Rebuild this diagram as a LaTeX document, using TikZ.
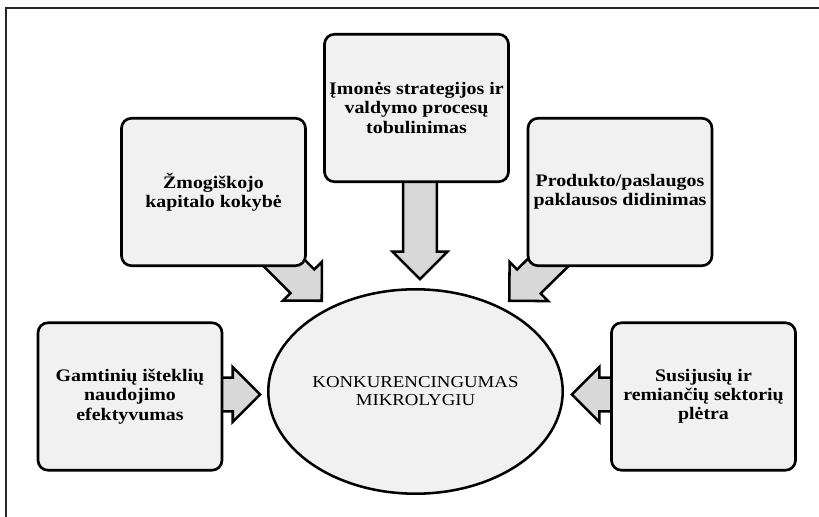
\documentclass[tikz,border=0pt]{standalone}
\usepackage{fontspec}
\setmainfont{Liberation Serif}
\newfontfamily\widserif[FakeStretch=1.13]{Liberation Serif}
\usetikzlibrary{shapes.geometric,calc}

\definecolor{boxgray}{HTML}{F1F1F1}
\definecolor{arrowgray}{HTML}{D8D8D8}

\pgfdeclarelayer{background}
\pgfsetlayers{background,main}

% block arrow geometry
\newcommand\shafthw{12.6pt}
\newcommand\headhw{20.6pt}
\newcommand\headlen{20.6pt}

% broad arrow from a point inside the source box to a tip coordinate
\newcommand\blockarrow[2]{%
  \coordinate (#2-base) at ($(#2)!\headlen!(#1)$);
  \draw[flowarrow]
    ($(#1)!\shafthw!90:(#2)$) --
    ($(#2-base)!\shafthw!-90:(#1)$) --
    ($(#2-base)!\headhw!-90:(#1)$) --
    (#2) --
    ($(#2-base)!\headhw!90:(#1)$) --
    ($(#2-base)!\shafthw!90:(#1)$) --
    ($(#1)!\shafthw!-90:(#2)$) -- cycle;
}

\tikzset{
  x=0.75pt, y=-0.75pt,
  factor/.style={draw=black, line width=2pt, fill=boxgray,
    rounded corners=7.5pt, minimum width=138pt, minimum height=110.6pt,
    inner sep=2pt, align=center,
    font=\widserif\bfseries\fontsize{13.2}{14.4}\selectfont},
  core/.style={ellipse, draw=black, line width=1.9pt, fill=boxgray,
    minimum width=220.8pt, minimum height=153.3pt, inner sep=0pt,
    align=center, font=\widserif\fontsize{12.5}{13.5}\selectfont},
  flowarrow/.style={draw=black, line width=1.9pt, fill=arrowgray,
    line join=miter},
  frameline/.style={draw=black!85, line width=1.5pt},
}

\begin{document}
\begin{tikzpicture}
\useasboundingbox (0,0) rectangle (819,517);

% open frame: left and top edges
\draw[frameline] (6,530) -- (6,8) -- (830,8);

% factor boxes
\node[factor] (zmo) at (213.5,192) {Žmogiškojo\\kapitalo kokybė};
\node[factor] (imo) at (416.5,108) {Įmonės strategijos ir\\valdymo procesų\\tobulinimas};
\node[factor] (pro) at (620,192) {Produkto/paslaugos\\paklausos didinimas};
\node[factor] (gam) at (130,396.5) {Gamtinių išteklių\\naudojimo\\efektyvumas};
\node[factor] (sus) at (703.5,396.5) {Susijusių ir\\remiančių sektorių\\plėtra};

% central ellipse
\node[core] (ell) at (415.5,391.5) {KONKURENCINGUMAS\\MIKROLYGIU};

% arrow start points inside the boxes and tips near the ellipse
\coordinate (imoS) at ($(imo.center)+(3.5,0)$);
\coordinate (gamS) at ($(gam.center)+(0,-2)$);
\coordinate (susS) at ($(sus.center)+(0,-2)$);
\coordinate (tipzmo) at ($(zmo.center)+(108.25,108.75)$);
\coordinate (tippro) at ($(pro.center)+(-110.75,108.75)$);
\coordinate (tipimo) at ($(imo.center)+(3.5,171.2)$);
\coordinate (tipgam) at ($(gam.center)+(130.2,-2)$);
\coordinate (tipsus) at ($(sus.center)+(-131.7,-2)$);

% arrows run behind the boxes
\begin{pgfonlayer}{background}
  \blockarrow{zmo.center}{tipzmo}
  \blockarrow{pro.center}{tippro}
  \blockarrow{imoS}{tipimo}
  \blockarrow{gamS}{tipgam}
  \blockarrow{susS}{tipsus}
\end{pgfonlayer}
\end{tikzpicture}
\end{document}
